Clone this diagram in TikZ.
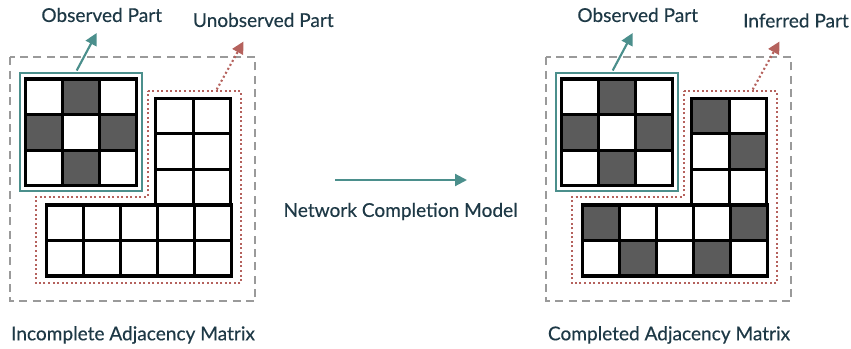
\documentclass[tikz,border=0pt]{standalone}
\usepackage{fontspec}
\setmainfont{Lato}
\newfontfamily\LabelFont[FakeBold=0.35]{Lato}
\usepackage{tikz}
\usetikzlibrary{positioning,arrows.meta}
\definecolor{ObsTeal}{HTML}{4B8F8C}
\definecolor{HidRed}{HTML}{B5625D}
\definecolor{CellDark}{HTML}{5B5B5B}
\definecolor{BoxGray}{HTML}{9A9A9A}
\definecolor{LabelInk}{HTML}{1E3946}
\def\CellW{36.9}
\def\CellH{35.6}
\def\PanelShift{536}

\begin{document}
\begin{tikzpicture}[x=0.75pt,y=-0.75pt,
	celloff/.style={draw=black,line width=2.3pt,fill=white},
	cellon/.style={celloff,fill=CellDark},
	lbl/.style={font=\LabelFont\fontsize{14.3}{16}\selectfont,text=LabelInk,inner sep=0pt},
	outerbox/.style={draw=BoxGray,line width=1.5pt,dash pattern=on 6pt off 4pt},
	hidbox/.style={draw=HidRed,line width=1.6pt,dash pattern=on 1.5pt off 1.9pt},
	obsbox/.style={draw=ObsTeal,line width=1.6pt},
	obsarrow/.style={ObsTeal,line width=1.6pt,-{Triangle[length=9pt,width=9pt]}},
	hidarrow/.style={HidRed,line width=1.6pt,dash pattern=on 1.5pt off 1.9pt,-{Triangle[length=9pt,width=9pt]}}]
	\useasboundingbox (0,0) rectangle (851,349);
	% left: incomplete matrix
	\draw[outerbox] (10,57.5) rectangle (255,301.5);
	\draw[obsbox] (20,73) rectangle (142,191);
	\foreach \c/\r/\s in {0/0/celloff,1/0/cellon,2/0/celloff,
		0/1/cellon,1/1/celloff,2/1/cellon,
		0/2/celloff,1/2/cellon,2/2/celloff}
		\draw[\s] (25.7+\c*\CellW,79+\r*\CellH) rectangle ++(\CellW,\CellH);
	\draw[hidbox] (147.7,91) -- (240.7,91) -- (240.7,283.3) -- (36,283.3)
		-- (36,196.7) -- (147.7,196.7) -- cycle;
	\foreach \c/\r in {0/0,1/0,0/1,1/1,0/2,1/2}
		\draw[celloff] (155.8+\c*37.45,98.3+\r*35.6) rectangle ++(37.45,35.6);
	\foreach \c/\r in {0/0,1/0,2/0,3/0,4/0,0/1,1/1,2/1,3/1,4/1}
		\draw[celloff] (46.7+\c*\CellW,205+\r*35.5) rectangle ++(\CellW,35.5);
	\coordinate (obsL) at (76.7,70.5);
	\coordinate (obsLtip) at (96.7,33);
	\coordinate (hidL) at (216.7,89.5);
	\coordinate (hidLtip) at (243.5,41.5);
	\draw[obsarrow] (obsL) -- (obsLtip);
	\draw[hidarrow] (hidL) -- (hidLtip);
	\node[lbl] (obsLabelL) at (101.7,15) {Observed Part};
	\node[lbl] (hidLabelL) at (263.3,20) {Unobserved Part};
	\node[lbl] (nameL) at (133,335) {Incomplete Adjacency Matrix};

	% middle
	\coordinate (modelA) at (335,180);
	\coordinate (modelB) at (467,180);
	\draw[obsarrow] (modelA) -- (modelB);
	\node[lbl,anchor=west] (model) at (283.3,211.5) {Network Completion Model};

	% right: completed matrix
	\begin{scope}[xshift=\PanelShift*0.75pt]
	\draw[outerbox] (10,57.5) rectangle (255,301.5);
	\draw[obsbox] (20,73) rectangle (142,191);
	\foreach \c/\r/\s in {0/0/celloff,1/0/cellon,2/0/celloff,
		0/1/cellon,1/1/celloff,2/1/cellon,
		0/2/celloff,1/2/cellon,2/2/celloff}
		\draw[\s] (25.7+\c*\CellW,79+\r*\CellH) rectangle ++(\CellW,\CellH);
	\draw[hidbox] (147.7,91) -- (240.7,91) -- (240.7,283.3) -- (36,283.3)
		-- (36,196.7) -- (147.7,196.7) -- cycle;
	\foreach \c/\r/\s in {0/0/cellon,1/0/celloff,0/1/celloff,1/1/cellon,0/2/celloff,1/2/celloff}
		\draw[\s] (155.8+\c*37.45,98.3+\r*35.6) rectangle ++(37.45,35.6);
	\foreach \c/\r/\s in {0/0/cellon,1/0/celloff,2/0/celloff,3/0/celloff,4/0/cellon,
		0/1/celloff,1/1/cellon,2/1/celloff,3/1/cellon,4/1/celloff}
		\draw[\s] (46.7+\c*\CellW,205+\r*35.5) rectangle ++(\CellW,35.5);
	\coordinate (obsR) at (76.7,70.5);
	\coordinate (obsRtip) at (96.7,33);
	\coordinate (hidR) at (216.7,89.5);
	\coordinate (hidRtip) at (243.5,41.5);
	\draw[obsarrow] (obsR) -- (obsRtip);
	\draw[hidarrow] (hidR) -- (hidRtip);
	\node[lbl] (obsLabelR) at (101.7,15) {Observed Part};
	\node[lbl] (hidLabelR) at (260,20.5) {Inferred Part};
	\node[lbl] (nameR) at (133,335) {Completed Adjacency Matrix};
	\end{scope}
\end{tikzpicture}
\end{document}
